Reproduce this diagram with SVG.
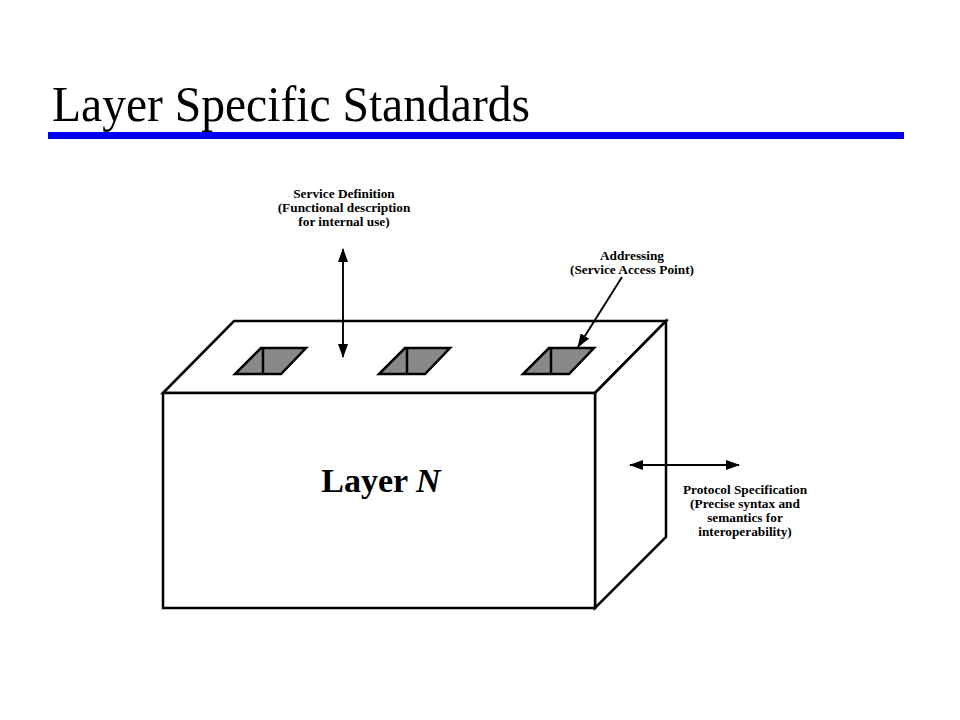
<svg xmlns="http://www.w3.org/2000/svg" width="960" height="720" viewBox="0 0 960 720">
<style>
.box{fill:#fff;stroke:#000;stroke-width:2.5;stroke-linejoin:miter}
.hole{fill:#888;stroke:#000;stroke-width:2.5;stroke-linejoin:miter}
.arr{stroke:#000;stroke-width:1.9;fill:none}
.lbl{font-family:"Liberation Serif","Times New Roman",serif;font-weight:bold;font-size:13.3px;text-anchor:middle;fill:#000}
</style>
<defs>
<marker id="ah" markerUnits="userSpaceOnUse" markerWidth="14" markerHeight="10" refX="13" refY="5" orient="auto-start-reverse">
<path d="M0,0 L14,5 L0,10 Z" fill="#000"/>
</marker>
</defs>
<rect width="960" height="720" fill="#fff"/>
<g id="title">
<text x="52" y="121" font-family="Liberation Serif,'Times New Roman',serif" font-size="50" textLength="478" lengthAdjust="spacingAndGlyphs" fill="#000">Layer Specific Standards</text>
<rect x="48" y="132" width="856" height="7" fill="#0000ee"/>
</g>
<g id="layerN">
<polygon class="box" points="163,393 234,321 666,321 595,393"/>
<polygon class="box" points="595,393 666,321 666,537 595,608"/>
<rect class="box" x="163" y="393" width="432" height="215"/>
<text x="381" y="492" text-anchor="middle" font-family="Liberation Serif,'Times New Roman',serif" font-weight="bold" font-size="34" fill="#000">Layer <tspan font-style="italic">N</tspan></text>
</g>
<g id="sap1">
<polygon class="hole" points="261,348 306,348 281,374 235,374"/>
<line x1="263" y1="348" x2="263" y2="374" stroke="#000" stroke-width="2.5"/>
</g>
<g id="sap2">
<polygon class="hole" points="405,348 450,348 425,374 379,374"/>
<line x1="407" y1="348" x2="407" y2="374" stroke="#000" stroke-width="2.5"/>
</g>
<g id="sap3">
<polygon class="hole" points="549,348 594,348 569,374 523,374"/>
<line x1="551" y1="348" x2="551" y2="374" stroke="#000" stroke-width="2.5"/>
</g>
<g id="connectors">
<line class="arr" x1="343" y1="249" x2="343" y2="357" marker-start="url(#ah)" marker-end="url(#ah)"/>
<line class="arr" x1="622" y1="277" x2="578" y2="347" marker-end="url(#ah)"/>
<line class="arr" x1="630" y1="465" x2="739" y2="465" marker-start="url(#ah)" marker-end="url(#ah)"/>
</g>
<g id="serviceDefinition">
<text class="lbl" x="344" y="198">Service Definition</text>
<text class="lbl" x="344" y="212">(Functional description</text>
<text class="lbl" x="344" y="226">for internal use)</text>
</g>
<g id="addressing">
<text class="lbl" x="632" y="260">Addressing</text>
<text class="lbl" x="632" y="274">(Service Access Point)</text>
</g>
<g id="protocolSpecification">
<text class="lbl" x="745" y="494">Protocol Specification</text>
<text class="lbl" x="745" y="508">(Precise syntax and</text>
<text class="lbl" x="745" y="522">semantics for</text>
<text class="lbl" x="745" y="536">interoperability)</text>
</g>
</svg>
